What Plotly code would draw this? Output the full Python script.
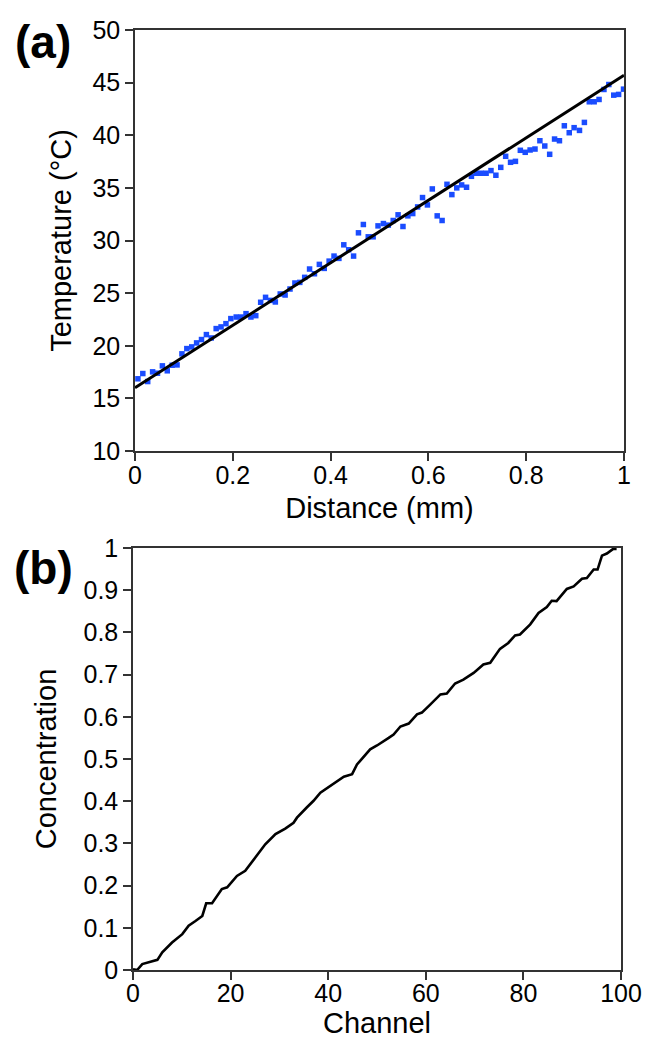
import plotly.graph_objects as go

# ---------------- Panel (a) data ----------------
distance_mm = [
    0.006, 0.016, 0.026, 0.036, 0.046, 0.056, 0.066, 0.076, 0.086, 0.096,
    0.106, 0.116, 0.126, 0.136, 0.146, 0.156, 0.166, 0.176, 0.186, 0.196,
    0.207, 0.217, 0.227, 0.237, 0.247, 0.257, 0.267, 0.277, 0.287, 0.297,
    0.307, 0.317, 0.327, 0.337, 0.347, 0.357, 0.367, 0.377, 0.387, 0.397,
    0.407, 0.417, 0.427, 0.437, 0.447, 0.457, 0.467, 0.477, 0.487, 0.497,
    0.508, 0.518, 0.528, 0.538, 0.548, 0.558, 0.568, 0.578, 0.588, 0.598,
    0.608, 0.618, 0.628, 0.638, 0.648, 0.658, 0.668, 0.678, 0.688, 0.698,
    0.708, 0.718, 0.728, 0.738, 0.748, 0.758, 0.768, 0.778, 0.788, 0.798,
    0.808, 0.818, 0.828, 0.838, 0.848, 0.858, 0.868, 0.878, 0.888, 0.898,
    0.909, 0.919, 0.929, 0.939, 0.949, 0.959, 0.969, 0.979, 0.989, 0.999,
]
temperature_c = [
    16.86, 17.36, 16.60, 17.52, 17.39, 18.09, 17.62, 18.15, 18.18, 19.23,
    19.73, 19.89, 20.27, 20.59, 21.06, 20.74, 21.63, 21.79, 22.10, 22.58,
    22.73, 22.73, 23.05, 22.73, 22.86, 24.13, 24.60, 24.31, 24.16, 24.92,
    24.82, 25.39, 25.96, 26.02, 26.50, 27.29, 26.84, 27.73, 27.35, 28.04,
    28.52, 28.30, 29.59, 29.12, 28.52, 30.73, 31.52, 30.35, 30.35, 31.39,
    31.61, 31.46, 31.90, 32.44, 31.33, 32.34, 32.56, 33.19, 34.08, 33.38,
    34.90, 32.34, 31.90, 35.34, 34.36, 35.00, 35.28, 35.06, 36.10, 36.39,
    36.39, 36.39, 36.64, 36.20, 36.95, 38.00, 37.43, 37.52, 38.57, 38.38,
    38.60, 38.69, 39.48, 38.98, 38.19, 39.64, 39.48, 40.90, 40.24, 40.72,
    40.46, 41.22, 43.18, 43.18, 43.40, 44.35, 44.82, 43.81, 43.88, 44.38,
]
fit_distance = [0.0, 1.0]
fit_temperature = [16.0, 45.7]

# ---------------- Panel (b) data ----------------
channel = [
    0.0, 0.85, 1.9, 3.2, 5.0, 6.0, 8.0, 10.1, 11.4, 12.8, 14.2, 15.0, 16.2,
    18.2, 19.3, 21.3, 23.0, 25.1, 27.1, 29.2, 31.2, 32.9, 33.6, 35.6, 37.0,
    38.4, 40.4, 43.2, 44.9, 45.9, 48.6, 50.0, 52.4, 53.4, 54.8, 56.5, 58.2,
    59.2, 60.9, 63.0, 64.3, 66.0, 67.7, 69.8, 71.8, 73.2, 75.2, 76.9, 78.3,
    79.3, 81.4, 83.1, 84.8, 85.8, 86.8, 88.9, 90.3, 92.0, 93.0, 94.4, 95.2,
    96.1, 97.1, 98.4, 99.1,
]
concentration = [
    0.002, 0.000, 0.014, 0.018, 0.024, 0.042, 0.065, 0.085, 0.105, 0.116, 0.128, 0.158, 0.158,
    0.192, 0.196, 0.223, 0.235, 0.267, 0.298, 0.322, 0.335, 0.349, 0.361, 0.385, 0.401,
    0.420, 0.436, 0.458, 0.464, 0.487, 0.523, 0.532, 0.550, 0.558, 0.577, 0.584, 0.606,
    0.610, 0.629, 0.653, 0.655, 0.679, 0.688, 0.704, 0.724, 0.728, 0.761, 0.775, 0.793,
    0.795, 0.819, 0.846, 0.860, 0.875, 0.874, 0.903, 0.909, 0.927, 0.929, 0.949, 0.949,
    0.982, 0.987, 0.998, 0.998,
]

W, H = 654, 1050
FONT = "Liberation Sans, Arial, sans-serif"
TICK_SIZE = 25
TITLE_SIZE = 29

fig = go.Figure()
fig.add_trace(go.Scatter(
    x=distance_mm, y=temperature_c, mode="markers",
    marker=dict(symbol="square", size=5.5, color="#1a4cff", line=dict(width=0)),
    xaxis="x", yaxis="y", showlegend=False))
fig.add_trace(go.Scatter(
    x=fit_distance, y=fit_temperature, mode="lines",
    line=dict(color="black", width=3),
    xaxis="x", yaxis="y", showlegend=False))
fig.add_trace(go.Scatter(
    x=channel, y=concentration, mode="lines",
    line=dict(color="black", width=2.6),
    xaxis="x2", yaxis="y2", showlegend=False))

axis_common = dict(
    showline=True, linecolor="#333333", linewidth=1.5, mirror=True,
    ticks="outside", ticklen=8, tickwidth=1.5, tickcolor="#333333",
    showgrid=False, zeroline=False, automargin=False,
    tickfont=dict(family=FONT, size=TICK_SIZE, color="black"),
)

fig.update_layout(
    width=W, height=H,
    margin=dict(l=0, r=0, t=0, b=0),
    paper_bgcolor="white", plot_bgcolor="white",
    font=dict(family=FONT, color="black"),
    xaxis=dict(axis_common, domain=[135 / W, 624 / W], range=[0, 1], dtick=0.2,
               anchor="y", ticklabelstandoff=-7,
               title=dict(text="Distance (mm)", font=dict(family=FONT, size=TITLE_SIZE), standoff=10)),
    yaxis=dict(axis_common, domain=[1 - 451 / H, 1 - 30 / H], range=[10, 50], dtick=5,
               anchor="x",
               title=dict(text="Temperature (°C)", font=dict(family=FONT, size=TITLE_SIZE), standoff=12)),
    xaxis2=dict(axis_common, domain=[133 / W, 621 / W], range=[0, 100], dtick=20,
                anchor="y2", ticklabelstandoff=-8,
                title=dict(text="Channel", font=dict(family=FONT, size=TITLE_SIZE), standoff=6)),
    yaxis2=dict(axis_common, domain=[1 - 970 / H, 1 - 548 / H], range=[0, 1], dtick=0.1,
                anchor="x2",
                title=dict(text="Concentration", font=dict(family=FONT, size=TITLE_SIZE), standoff=18)),
    annotations=[
        dict(text="<b>(a)</b>", x=43 / W, y=1 - 42 / H, xref="paper", yref="paper",
             showarrow=False, font=dict(family=FONT, size=46, color="black"),
             xanchor="center", yanchor="middle"),
        dict(text="<b>(b)</b>", x=43 / W, y=1 - 568 / H, xref="paper", yref="paper",
             showarrow=False, font=dict(family=FONT, size=46, color="black"),
             xanchor="center", yanchor="middle"),
    ],
)

fig.write_html("out.html", config={"displayModeBar": False},
               post_script="document.body.style.margin='0px';")
